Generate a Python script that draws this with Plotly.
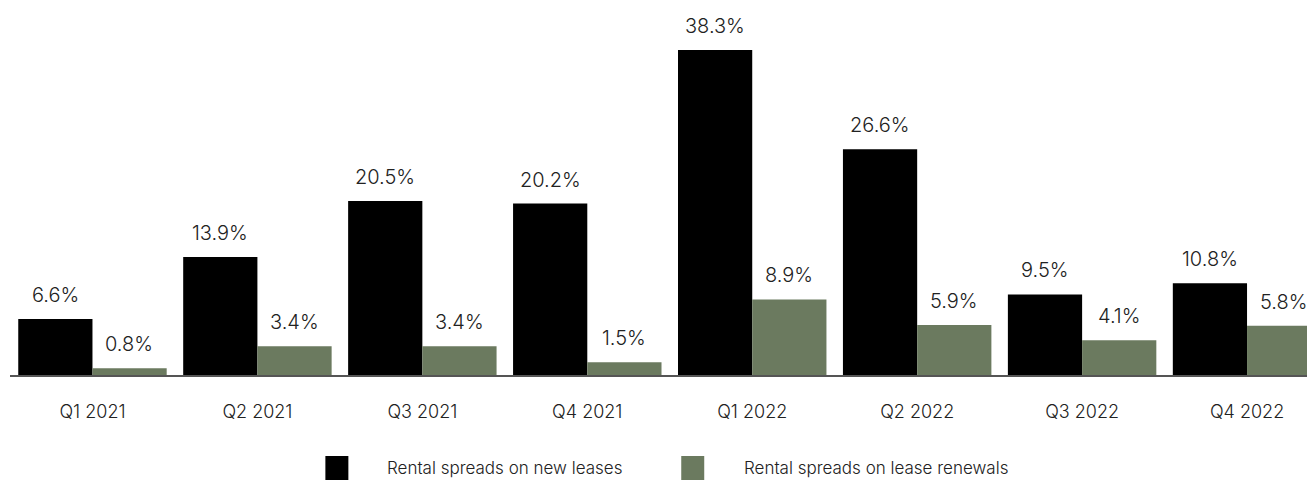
import plotly.graph_objects as go

categories = ["Q1 2021", "Q2 2021", "Q3 2021", "Q4 2021", "Q1 2022", "Q2 2022", "Q3 2022", "Q4 2022"]
new_leases = [6.6, 13.9, 20.5, 20.2, 38.3, 26.6, 9.5, 10.8]
renewals = [0.8, 3.4, 3.4, 1.5, 8.9, 5.9, 4.1, 5.8]
series_names = ["Rental spreads on new leases", "Rental spreads on lease renewals"]
series_colors = ["#000000", "#6b7a5f"]

# page body has an 8px margin, so the figure is sized to fit inside the window
W, H = 1307, 472
ML, MR, MT, MB = 1.5, 0, 10, 105
FONT = "Inter"
TXT = "#222222"

fig = go.Figure()
for name, vals, col in zip(series_names, [new_leases, renewals], series_colors):
    fig.add_trace(go.Bar(x=categories, y=vals, name=name, marker=dict(color=col, line=dict(width=0)),
                         showlegend=False))

annotations = []
for vals, shift in [(new_leases, -37), (renewals, 37)]:
    for c, v in zip(categories, vals):
        annotations.append(dict(x=c, y=v, xref="x", yref="y", text=f"{v:.1f}%", showarrow=False,
                                xshift=shift, yanchor="bottom", yshift=10,
                                font=dict(family=FONT, size=20, color=TXT, weight=300)))

# legend drawn manually
plot_w = W - ML - MR
plot_h = H - MT - MB
def px_x(p):
    return (p - ML) / plot_w
def px_y(p):
    return (H - MB - p) / plot_h

shapes = []
legend_items = [(317, 377), (673, 734)]
for (sx, tx), name, col in zip(legend_items, series_names, series_colors):
    shapes.append(dict(type="rect", xref="paper", yref="paper", x0=px_x(sx), x1=px_x(sx + 23),
                       y0=px_y(448), y1=px_y(472), fillcolor=col, line=dict(width=0)))
    annotations.append(dict(xref="paper", yref="paper", x=px_x(tx), y=px_y(460), text=name,
                            showarrow=False, xanchor="left", yanchor="middle",
                            font=dict(family=FONT, size=17, color=TXT, weight=300)))

fig.update_layout(
    width=W, height=H,
    margin=dict(l=ML, r=MR, t=MT, b=MB),
    barmode="group", bargap=0.1, bargroupgap=0,
    plot_bgcolor="white", paper_bgcolor="white",
    annotations=annotations, shapes=shapes,
    font=dict(family=FONT, color=TXT),
)
fig.update_xaxes(range=[-0.5, 7.412], showline=True, linecolor="#555555", linewidth=2,
                 ticks="outside", ticklen=19, tickcolor="rgba(0,0,0,0)",
                 tickfont=dict(family=FONT, size=18, color=TXT, weight=300), showgrid=False)
fig.update_yaxes(range=[0, (H - MT - MB) / 8.486], visible=False, showgrid=False, zeroline=False)

fig.write_html("out.html")
